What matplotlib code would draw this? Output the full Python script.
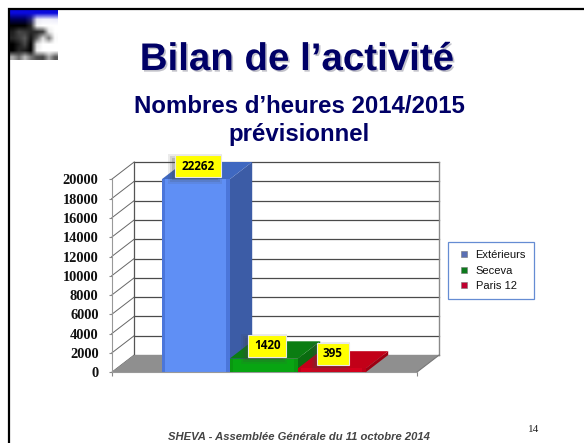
import numpy as np
import matplotlib
matplotlib.use("Agg")
import matplotlib.pyplot as plt
import matplotlib.patheffects as pe
from matplotlib.lines import Line2D
from matplotlib.patches import Polygon, Rectangle
from matplotlib.transforms import ScaledTranslation

categories = ["Extérieurs", "Seceva", "Paris 12"]
heures = [22262, 1420, 395]
y_ticks = list(range(0, 20001, 2000))

front_colors = ["#5f8ff5", "#08a512", "#d4001c"]
top_colors = ["#3f68c0", "#0b7d12", "#c20018"]
side_colors = ["#3c5ca6", "#0a6c10", "#9c0012"]
edge_colors = ["#3f66c8", "#0a8f10", "#b00018"]
legend_colors = ["#5a6fb4", "#0c7a1c", "#c00030"]
label_offsets = [(2.7, 13.3), (3.5, 12.6), (1.0, 14.5)]
label_widths = [46, 38, 32]

W, H = 584, 443
Y_MAX = 20000
BAR_PX = 68.0
DEPTH_X = 22.5 / BAR_PX
DEPTH_Y = 17.3 / 193 * Y_MAX
X_END = 305 / BAR_PX
BAR_START = 50 / BAR_PX

plt.rcParams["font.family"] = ["Liberation Sans", "DejaVu Sans"]

fig = plt.figure(figsize=(W / 100, H / 100), dpi=100, facecolor="white")


def px_axes(left, top, right, bottom):
    return fig.add_axes([left / W, 1 - bottom / H, (right - left) / W, (bottom - top) / H])


# slide frame and logo
bg = fig.add_axes([0, 0, 1, 1])
bg.set_xlim(0, W)
bg.set_ylim(H, 0)
bg.axis("off")
bg.plot([9, 9, W], [H, 9, 9], color="black", lw=1.6, solid_capstyle="butt", solid_joinstyle="miter")

logo = np.array([
    [[10, 10, 220], [10, 10, 220], [10, 10, 220], [10, 10, 220], [10, 10, 220], [10, 10, 220], [10, 10, 220], [10, 10, 220]],
    [[0, 0, 90], [0, 0, 90], [0, 0, 90], [40, 40, 120], [230, 230, 245], [240, 240, 250], [240, 240, 250], [235, 235, 250]],
    [[0, 0, 0], [0, 0, 0], [0, 0, 0], [40, 40, 40], [245, 245, 245], [255, 255, 255], [255, 255, 255], [255, 255, 255]],
    [[30, 30, 30], [70, 70, 70], [60, 60, 60], [40, 40, 40], [40, 40, 40], [60, 60, 60], [230, 230, 230], [255, 255, 255]],
    [[40, 40, 40], [60, 60, 60], [90, 90, 90], [20, 20, 20], [100, 100, 100], [220, 220, 220], [120, 120, 120], [250, 250, 250]],
    [[0, 0, 0], [30, 30, 30], [70, 70, 70], [0, 0, 0], [230, 230, 230], [255, 255, 255], [255, 255, 255], [255, 255, 255]],
    [[0, 0, 0], [40, 40, 40], [30, 30, 30], [0, 0, 0], [240, 240, 240], [255, 255, 255], [255, 255, 255], [255, 255, 255]],
    [[170, 170, 170], [110, 110, 110], [190, 190, 190], [120, 120, 120], [80, 80, 80], [70, 70, 70], [170, 170, 170], [90, 90, 90]],
]) / 255
bg.imshow(logo, extent=(10, 58, 60, 10), interpolation="bilinear", aspect="auto")
bg.set_xlim(0, W)
bg.set_ylim(H, 0)

# titles
bg.text(297, 60, "Bilan de l’activité", ha="center", va="center",
        fontsize=27.7, fontweight="bold", color="#000066",
        path_effects=[pe.SimplePatchShadow(offset=(1.2, -1.2), shadow_rgbFace="#9a9aa8", alpha=0.6), pe.Normal()])
bg.text(299, 120.5, "Nombres d’heures 2014/2015\nprévisionnel", ha="center", va="center",
        fontsize=17.3, fontweight="bold", color="#000066", linespacing=1.25)
bg.text(299, 437, "SHEVA - Assemblée Générale du 11 octobre 2014", ha="center", va="center",
        fontsize=8.1, fontweight="bold", fontstyle="italic", color="#444444")
bg.text(534, 429, "14", ha="center", va="center", fontsize=8, family="Liberation Serif", color="#222222")

# chart, front plane of the 3D box
ax = px_axes(111.7, 179.3, 416.7, 372.3)
ax.patch.set_alpha(0)
ax.set_xticks([0, X_END])
ax.set_xticklabels([])
ax.set_yticks(y_ticks)
ax.set_yticklabels([str(t) for t in y_ticks], family="Liberation Serif", fontweight="bold",
                   fontsize=10.4, color="#111111")
ax.tick_params(axis="y", length=2.5, width=0.8, color="#888888", pad=7)
ax.tick_params(axis="x", length=3, width=0.8, color="#888888")
for name in ["top", "right"]:
    ax.spines[name].set_visible(False)
for name in ["left", "bottom"]:
    ax.spines[name].set_color("#999999")
    ax.spines[name].set_linewidth(0.8)

# floor
ax.add_patch(Polygon([(0, 0), (X_END, 0), (X_END + DEPTH_X, DEPTH_Y), (DEPTH_X, DEPTH_Y)],
                     closed=True, fc="#8f8f8f", ec="none", zorder=1, clip_on=False))

# back and side walls
for t in y_ticks:
    ax.plot([DEPTH_X, X_END + DEPTH_X], [t + DEPTH_Y, t + DEPTH_Y], color="#4a4a4a", lw=0.9,
            zorder=0.6, clip_on=False)
    ax.plot([0, DEPTH_X], [t, t + DEPTH_Y], color="#666666", lw=0.7, zorder=0.6, clip_on=False)
ax.plot([DEPTH_X, DEPTH_X], [DEPTH_Y, Y_MAX + DEPTH_Y], color="#555555", lw=0.9, zorder=0.6, clip_on=False)
ax.plot([X_END + DEPTH_X, X_END + DEPTH_X], [DEPTH_Y, Y_MAX + DEPTH_Y], color="#8a8a8a", lw=1.0,
        zorder=0.6, clip_on=False)
ax.plot([X_END, X_END + DEPTH_X], [0, DEPTH_Y], color="#777777", lw=0.8, zorder=1.1, clip_on=False)

# bars, the first one runs off the axis and is cut at its top
xs = [BAR_START + i for i in range(len(heures))]
tops = [min(v, Y_MAX) for v in heures]
for i, (x, top) in enumerate(zip(xs, tops)):
    z = 2 + i
    ax.add_patch(Polygon([(x + 1, 0), (x + 1 + DEPTH_X, DEPTH_Y), (x + 1 + DEPTH_X, top + DEPTH_Y), (x + 1, top)],
                         closed=True, fc=side_colors[i], ec="none", zorder=z, clip_on=False))
    ax.add_patch(Polygon([(x, top), (x + 1, top), (x + 1 + DEPTH_X, top + DEPTH_Y), (x + DEPTH_X, top + DEPTH_Y)],
                         closed=True, fc=top_colors[i], ec="none", zorder=z, clip_on=False))
    ax.bar(x, top, width=1, align="edge", color=front_colors[i], zorder=z + 0.1)
    ax.bar(x, top, width=0.05, align="edge", color=edge_colors[i], alpha=0.6, zorder=z + 0.2)
    ax.bar(x + 0.95, top, width=0.05, align="edge", color=edge_colors[i], alpha=0.6, zorder=z + 0.2)

ax.set_xlim(0, X_END)
ax.set_ylim(0, Y_MAX)

# value labels on yellow boxes, with a soft shadow down and to the left
for x, top, v, off, w in zip(xs, tops, heures, label_offsets, label_widths):
    anchor = fig.dpi_scale_trans + ScaledTranslation(x + 0.5, top, ax.transData)
    cx, cy = off[0] / 100, off[1] / 100
    bw, bh = w / 100, 22 / 100
    for grow, alpha in [(0.04, 0.10), (0.02, 0.15), (0.0, 0.2)]:
        ax.add_patch(Rectangle((cx - bw / 2 - 0.03 - grow, cy - bh / 2 - 0.03 - grow),
                               bw + 2 * grow, bh + 2 * grow, transform=anchor, fc="#444444", ec="none",
                               alpha=alpha, zorder=9, clip_on=False))
    ax.add_patch(Rectangle((cx - bw / 2, cy - bh / 2), bw, bh, transform=anchor, fc="#ffff00",
                           ec="#e8e8e8", lw=0.8, zorder=9.5, clip_on=False))
    ax.annotate(str(v), xy=(x + 0.5, top), xytext=(off[0] * 0.72, off[1] * 0.72), textcoords="offset points",
                ha="center", va="center", fontsize=8.4, fontweight="bold", family="Open Sans",
                color="black", zorder=10, annotation_clip=False)

# legend
handles = [Line2D([], [], linestyle="none", marker="s", markersize=4.6, markerfacecolor=c,
                  markeredgecolor="#777777", markeredgewidth=0.4) for c in legend_colors]
leg = fig.legend(handles, categories, loc="center", bbox_to_anchor=(491 / W, 1 - 270.5 / H),
                 fontsize=8, frameon=True, fancybox=False, edgecolor="#3f70c8", facecolor="white",
                 labelspacing=0.47, borderpad=0.75, handletextpad=0.35, handlelength=1.4, labelcolor="#111111")
leg.get_frame().set_linewidth(0.9)

fig.savefig("out.png", dpi=100)
